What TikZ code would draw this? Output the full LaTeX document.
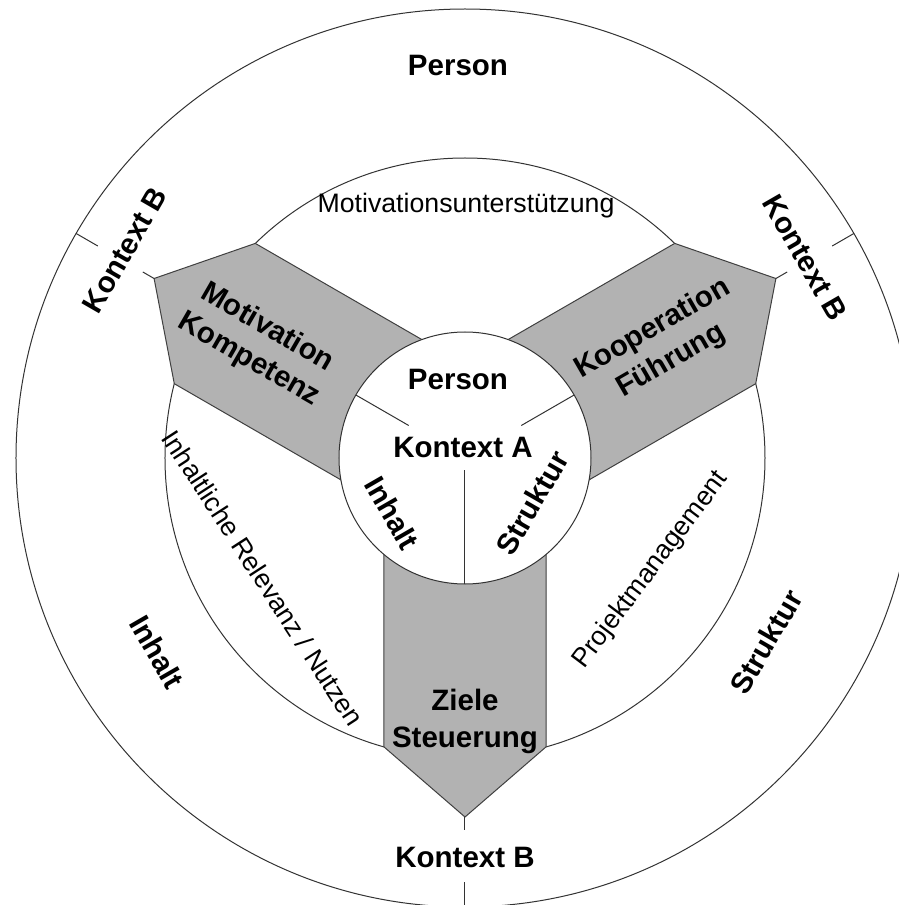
\documentclass[tikz,border=0pt]{standalone}
\usepackage{fontspec}
\setmainfont{Liberation Sans}
\begin{document}
\begin{tikzpicture}[x=1pt,y=1pt,
  ln/.style={draw=black!80, line width=1pt},
  bandshape/.style={fill=black!30, draw=black!75, line width=1pt, line join=miter},
  bl/.style={font=\fontsize{29.5}{37}\selectfont\bfseries, align=center, inner sep=0pt},
  rl/.style={font=\fontsize{26.7}{32}\selectfont, inner sep=0pt},
]
\useasboundingbox (-465,-447) rectangle (434,458);
\clip (-465,-447) rectangle (434,458);
% outer and middle circles
\node[circle, draw=black!80, line width=1pt, minimum size=898pt, inner sep=0pt] (outer) at (0,0) {};
\node[circle, draw=black!80, line width=1pt, minimum size=600pt, inner sep=0pt] (middle) at (0,0) {};
% gray bands
\foreach \a in {150,30,270}{
  \begin{scope}[rotate=\a]
    \draw[bandshape] (0,81) -- (288.9,81) -- (359,0) -- (288.9,-81) -- (0,-81) -- cycle;
  \end{scope}
}
% inner circle
\node[circle, draw=black!80, fill=white, line width=1pt, minimum size=252pt, inner sep=0pt] (inner) at (0,0) {};
% tick lines
\foreach \a/\n in {150/L,30/R,270/B}{
  \coordinate (tip\n) at (\a:359);
  \coordinate (tipo\n) at (\a:372);
  \coordinate (ticki\n) at (\a:424);
  \coordinate (ticko\n) at (\a:449);
  \draw[ln] (tip\n) -- (tipo\n);
  \draw[ln] (ticki\n) -- (ticko\n);
}
% inner separators
\coordinate (sLi) at (150:65); \coordinate (sLo) at (150:126);
\coordinate (sRi) at (30:65);  \coordinate (sRo) at (30:126);
\coordinate (sBi) at (270:12); \coordinate (sBo) at (270:126);
\draw[ln] (sLi) -- (sLo);
\draw[ln] (sRi) -- (sRo);
\draw[ln] (sBi) -- (sBo);
% texts
\node[bl] (pO) at (-7,392) {Person};
\node[bl, rotate=60] (kbL) at (-340,208) {Kontext B};
\node[bl, rotate=-60] (kbR) at (340,200) {Kontext B};
\node[bl] (kbB) at (0,-399) {Kontext B};
\node[bl, rotate=-60] (inO) at (-308,-194) {Inhalt};
\node[bl, rotate=60] (stO) at (301,-184) {Struktur};
\node[rl] (mot) at (1,252) {Motivationsunterstützung};
\node[rl, rotate=-57] (rel) at (-202,-120) {Inhaltliche Relevanz / Nutzen};
\node[rl, rotate=53] (proj) at (186,-112) {Projektmanagement};
\node[bl, rotate=-30] (mk) at (-207,114) {Motivation\\Kompetenz};
\node[bl, rotate=30] (kf) at (197,113) {Kooperation\\Führung};
\node[bl] (zs) at (0,-263) {Ziele\\Steuerung};
\node[bl] (pI) at (-7,79) {Person};
\node[bl] (ka) at (-2,11) {Kontext A};
\node[bl, rotate=-60] (inI) at (-73,-55) {Inhalt};
\node[bl, rotate=60] (stI) at (67,-45) {Struktur};
\end{tikzpicture}
\end{document}
